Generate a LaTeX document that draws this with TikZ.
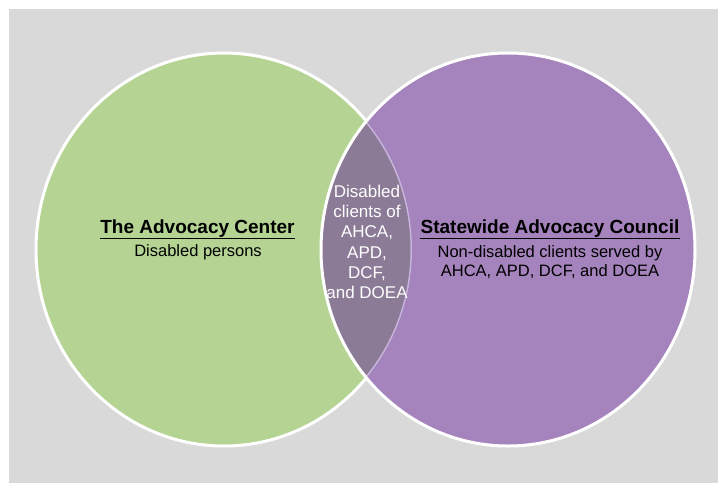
\documentclass[tikz,border=0pt]{standalone}
\usepackage{fontspec}
\setmainfont{Liberation Sans}
\begin{document}
\begin{tikzpicture}[x=1pt,y=-1pt,
  setfill/.style={line width=3pt, draw=white},
  title/.style={inner sep=0pt, font=\fontsize{19}{22}\selectfont\bfseries},
  body/.style={inner sep=0pt, align=center, font=\fontsize{16.5}{18.5}\selectfont},
  lenstext/.style={inner sep=0pt, align=center, text=white, font=\fontsize{17}{20.2}\selectfont},
  uline/.style={line width=1.7pt}]
\definecolor{bg}{RGB}{217,217,217}
\definecolor{leftfill}{RGB}{181,212,148}
\definecolor{rightfill}{RGB}{165,131,189}
\definecolor{lensfill}{RGB}{139,123,150}
\definecolor{lensedge}{RGB}{200,180,222}
\useasboundingbox (0,0) rectangle (718,483);
\fill[white] (0,0) rectangle (718,483);
\fill[bg] (9,9) rectangle (718,483);

% the two sets
\coordinate (cl) at (224,249.5);
\coordinate (cr) at (508,249.5);
\fill[leftfill] (cl) ellipse [x radius=188, y radius=196.5];
\draw[setfill] (cl) ellipse [x radius=188, y radius=196.5];
\fill[rightfill] (cr) ellipse [x radius=187, y radius=196.5];
% overlap region
\begin{scope}
  \clip (cl) ellipse [x radius=188, y radius=196.5];
  \fill[lensfill] (cr) ellipse [x radius=187, y radius=196.5];
  \begin{scope}
    \clip (cr) ellipse [x radius=187, y radius=196.5];
    \draw[line width=3pt, draw=lensedge] (cl) ellipse [x radius=188, y radius=196.5];
  \end{scope}
\end{scope}
\draw[setfill] (cr) ellipse [x radius=187, y radius=196.5];

% left set labels
\node[title] (lt) at (197.5,229) {The Advocacy Center};
\draw[uline] ([yshift=-4.5pt]lt.base west) -- ([yshift=-4.5pt]lt.base east);
\node[body] (lb) at (198,252) {Disabled persons};

% right set labels
\node[title] (rt) at (550,229) {Statewide Advocacy Council};
\draw[uline] ([yshift=-4.5pt]rt.base west) -- ([yshift=-4.5pt]rt.base east);
\node[body] (rb) at (550,262) {Non-disabled clients served by\\AHCA, APD, DCF, and DOEA};

% overlap label
\node[lenstext] (mid) at (367,242) {Disabled\\clients of\\AHCA,\\APD,\\DCF,\\and DOEA};
\end{tikzpicture}
\end{document}
